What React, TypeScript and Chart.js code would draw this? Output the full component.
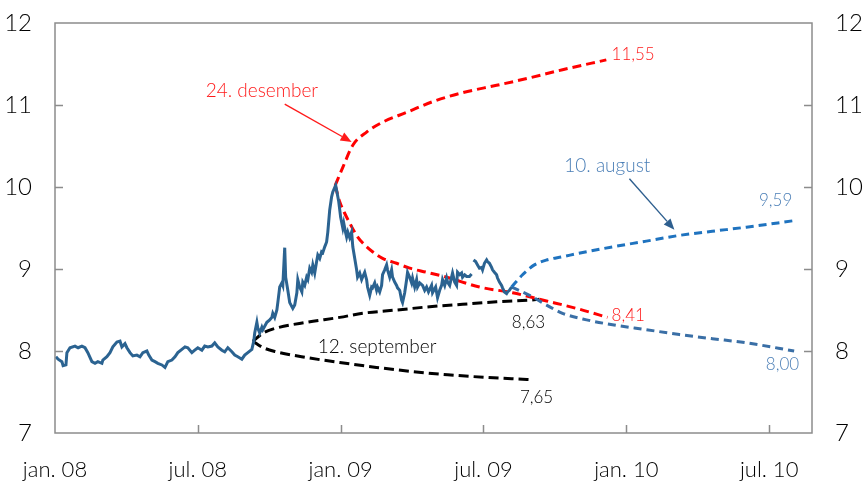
import { useEffect, useRef } from "react";
import { Chart, registerables } from "chart.js";

Chart.register(...registerables);

// x values are months since 1 January 2008
const xTickMonths = [0, 6, 12, 18, 24, 30];
const xTickLabels = ["jan. 08", "jul. 08", "jan. 09", "jul. 09", "jan. 10", "jul. 10"];
const yInnerTicks = [8, 9, 10, 11];

const actual: [number, number | null][] = [
  [0.04, 7.93], [0.13, 7.9], [0.29, 7.87], [0.34, 7.82], [0.46, 7.83], [0.5, 7.98], [0.63, 8.04], [0.84, 8.06],
  [0.97, 8.04], [1.13, 8.06], [1.26, 8.04], [1.38, 7.98], [1.55, 7.87], [1.68, 7.85], [1.8, 7.87], [1.97, 7.85],
  [2.01, 7.89], [2.18, 7.93], [2.31, 7.98], [2.43, 8.05], [2.6, 8.11], [2.73, 8.12], [2.81, 8.05], [2.94, 8.09],
  [3.02, 8.04], [3.15, 7.98], [3.27, 7.94], [3.44, 7.95], [3.57, 7.93], [3.69, 7.98], [3.86, 8.0], [3.94, 7.95],
  [4.07, 7.89], [4.2, 7.87], [4.32, 7.85], [4.49, 7.83], [4.62, 7.8], [4.74, 7.87], [4.91, 7.89], [5.04, 7.93],
  [5.16, 7.98], [5.33, 8.02], [5.46, 8.05], [5.58, 8.04], [5.75, 7.98], [5.87, 8.01], [6.0, 8.04], [6.17, 8.01],
  [6.29, 8.06], [6.42, 8.05], [6.59, 8.06], [6.71, 8.1], [6.84, 8.05], [7.01, 8.01], [7.13, 7.99], [7.26, 8.04],
  [7.43, 7.99], [7.55, 7.95], [7.68, 7.93], [7.85, 7.9], [7.97, 7.95], [8.1, 7.98], [8.27, 8.02], [8.35, 8.12],
  [8.39, 8.22], [8.48, 8.35], [8.52, 8.28], [8.6, 8.22], [8.69, 8.29], [8.73, 8.26], [8.9, 8.35], [9.02, 8.38],
  [9.11, 8.41], [9.15, 8.46], [9.23, 8.41], [9.32, 8.5], [9.36, 8.59], [9.44, 8.78], [9.53, 8.83], [9.57, 8.8],
  [9.65, 9.26], [9.69, 8.9], [9.78, 8.74], [9.86, 8.59], [9.99, 8.52], [10.07, 8.56], [10.16, 8.71], [10.2, 8.87],
  [10.28, 8.78], [10.37, 8.72], [10.41, 8.84], [10.49, 8.8], [10.57, 8.9], [10.62, 8.87], [10.7, 9.01], [10.78, 8.96],
  [10.83, 9.05], [10.91, 8.95], [10.99, 9.09], [11.04, 9.17], [11.12, 9.13], [11.2, 9.21], [11.25, 9.2], [11.33, 9.27],
  [11.41, 9.33], [11.46, 9.45], [11.54, 9.72], [11.62, 9.88], [11.67, 9.94], [11.79, 10.02], [11.83, 9.96], [11.92, 9.82],
  [12.0, 9.63], [12.09, 9.5], [12.13, 9.56], [12.21, 9.44], [12.25, 9.39], [12.3, 9.45], [12.38, 9.38], [12.46, 9.45],
  [12.51, 9.27], [12.59, 9.13], [12.67, 8.99], [12.71, 8.9], [12.8, 8.95], [12.88, 8.87], [12.92, 8.9], [13.01, 8.96],
  [13.09, 8.87], [13.13, 8.78], [13.22, 8.68], [13.3, 8.78], [13.34, 8.77], [13.43, 8.83], [13.51, 8.74], [13.55, 8.78],
  [13.64, 8.72], [13.72, 8.8], [13.76, 8.93], [13.85, 8.99], [13.93, 9.05], [13.97, 8.99], [14.06, 8.9], [14.14, 8.99],
  [14.18, 8.9], [14.27, 8.84], [14.35, 8.8], [14.39, 8.77], [14.48, 8.74], [14.56, 8.62], [14.6, 8.59], [14.69, 8.71],
  [14.77, 8.87], [14.81, 8.96], [14.9, 8.9], [14.98, 8.83], [15.02, 8.89], [15.11, 8.78], [15.19, 8.87], [15.23, 8.78],
  [15.32, 8.83], [15.44, 8.8], [15.53, 8.74], [15.61, 8.78], [15.69, 8.72], [15.82, 8.8], [15.86, 8.71], [15.99, 8.78],
  [16.07, 8.65], [16.16, 8.74], [16.24, 8.8], [16.28, 8.87], [16.37, 8.8], [16.45, 8.89], [16.49, 8.84], [16.58, 8.8],
  [16.66, 8.9], [16.7, 8.95], [16.79, 8.84], [16.87, 8.8], [16.91, 8.96], [17.0, 8.93], [17.08, 8.95], [17.12, 8.9],
  [17.21, 8.93], [17.29, 8.91], [17.41, 8.91], [17.5, 8.94], [17.54, null],
  [17.58, 9.11], [17.67, 9.09], [17.75, 9.05], [17.83, 9.01], [17.92, 9.02], [17.96, 8.99], [18.04, 9.07], [18.13, 9.11],
  [18.17, 9.09], [18.25, 9.07], [18.34, 9.02], [18.38, 8.99], [18.46, 8.96], [18.55, 8.93], [18.59, 8.89], [18.67, 8.84],
  [18.76, 8.8], [18.8, 8.77], [18.88, 8.72], [18.97, 8.7], [19.01, 8.72], [19.09, 8.74], [19.18, 8.78],
];

const dec24Up: [number, number][] = [
  [11.77, 10.02], [12.09, 10.24], [12.51, 10.51], [13.09, 10.67], [13.76, 10.79], [14.77, 10.91],
  [15.86, 11.04], [17.12, 11.15], [18.55, 11.24], [19.93, 11.33], [21.32, 11.43], [23.16, 11.55],
];
const dec24Down: [number, number][] = [
  [11.77, 10.02], [11.96, 9.82], [12.17, 9.68], [12.38, 9.56], [12.67, 9.41], [12.92, 9.32], [13.34, 9.21],
  [13.76, 9.13], [14.35, 9.07], [14.9, 9.01], [15.61, 8.96], [16.45, 8.9], [17.83, 8.78], [19.22, 8.71],
  [20.65, 8.61], [22.03, 8.51], [23.21, 8.41],
];
const sep12Up: [number, number][] = [
  [8.31, 8.12], [8.75, 8.22], [9.3, 8.28], [10.57, 8.35], [11.96, 8.41], [12.92, 8.46], [14.35, 8.5],
  [15.74, 8.54], [17.12, 8.57], [18.55, 8.6], [19.93, 8.62], [20.35, 8.63],
];
const sep12Down: [number, number][] = [
  [8.31, 8.12], [8.75, 8.04], [9.3, 7.99], [10.57, 7.92], [11.96, 7.86], [13.5, 7.8], [15.0, 7.75],
  [16.5, 7.71], [18.0, 7.68], [19.3, 7.66], [20.06, 7.65],
];
const aug10Up: [number, number][] = [
  [19.18, 8.78], [19.64, 8.93], [20.14, 9.05], [20.65, 9.11], [21.32, 9.15], [22.33, 9.21], [23.42, 9.27],
  [24.84, 9.34], [26.23, 9.41], [27.61, 9.46], [29.04, 9.51], [31.05, 9.59],
];
const aug10Down: [number, number][] = [
  [19.18, 8.78], [19.64, 8.72], [20.06, 8.66], [20.65, 8.56], [21.32, 8.46], [22.33, 8.38], [23.42, 8.32],
  [24.84, 8.26], [26.23, 8.2], [27.61, 8.15], [29.04, 8.1], [31.05, 8.0],
];

const RED = "#ff1a1a";
const BLUE_TEXT = "#4a7eb6";
const FONT = "Lato, 'Noto Sans', sans-serif";
const WEIGHT = "300";

const texts = [
  { text: "11,55", x: 23.38, y: 11.61, color: RED, align: "left", size: 17 },
  { text: "24. desember", x: 8.69, y: 11.17, color: RED, align: "center", size: 19 },
  { text: "10. august", x: 23.2, y: 10.26, color: BLUE_TEXT, align: "center", size: 19 },
  { text: "9,59", x: 30.97, y: 9.83, color: BLUE_TEXT, align: "right", size: 17 },
  { text: "8,00", x: 31.26, y: 7.83, color: BLUE_TEXT, align: "right", size: 17 },
  { text: "8,41", x: 23.38, y: 8.43, color: RED, align: "left", size: 17 },
  { text: "8,63", x: 19.89, y: 8.35, color: "#000", align: "center", size: 17 },
  { text: "7,65", x: 20.23, y: 7.43, color: "#000", align: "center", size: 17 },
  { text: "12. september", x: 13.53, y: 8.05, color: "#000", align: "center", size: 19 },
];

const arrows = [
  { from: [9.65, 11.01], to: [12.46, 10.55], color: RED },
  { from: [24.13, 10.1], to: [26.02, 9.48], color: "#2e5f8f" },
];

const pts = (a: [number, number | null][]) => a.map(([x, y]) => ({ x, y }));

const overlay = {
  id: "overlay",
  afterDatasetsDraw(chart: any) {
    const { ctx, chartArea: a, scales } = chart;
    const sx = scales.x;
    const sy = scales.y;
    ctx.save();
    ctx.strokeStyle = "#8c8c8c";
    ctx.lineWidth = 1.5;
    ctx.strokeRect(a.left, a.top, a.right - a.left, a.bottom - a.top);
    ctx.beginPath();
    for (const m of xTickMonths) {
      if (m === 0) continue;
      const px = Math.round(sx.getPixelForValue(m)) + 0.5;
      ctx.moveTo(px, a.bottom);
      ctx.lineTo(px, a.bottom - 8);
    }
    for (const v of yInnerTicks) {
      const py = Math.round(sy.getPixelForValue(v)) + 0.5;
      ctx.moveTo(a.left, py);
      ctx.lineTo(a.left + 8, py);
      ctx.moveTo(a.right, py);
      ctx.lineTo(a.right - 8, py);
    }
    ctx.stroke();

    for (const ar of arrows) {
      const x1 = sx.getPixelForValue(ar.from[0]);
      const y1 = sy.getPixelForValue(ar.from[1]);
      const x2 = sx.getPixelForValue(ar.to[0]);
      const y2 = sy.getPixelForValue(ar.to[1]);
      const ang = Math.atan2(y2 - y1, x2 - x1);
      const L = 11;
      const W = 4.5;
      ctx.strokeStyle = ar.color;
      ctx.fillStyle = ar.color;
      ctx.lineWidth = 1.4;
      ctx.beginPath();
      ctx.moveTo(x1, y1);
      ctx.lineTo(x2 - L * Math.cos(ang), y2 - L * Math.sin(ang));
      ctx.stroke();
      ctx.beginPath();
      ctx.moveTo(x2, y2);
      ctx.lineTo(x2 - L * Math.cos(ang) - W * Math.sin(ang), y2 - L * Math.sin(ang) + W * Math.cos(ang));
      ctx.lineTo(x2 - L * Math.cos(ang) + W * Math.sin(ang), y2 - L * Math.sin(ang) - W * Math.cos(ang));
      ctx.closePath();
      ctx.fill();
    }

    for (const t of texts) {
      ctx.fillStyle = t.color;
      ctx.font = `${WEIGHT} ${t.size}px ${FONT}`;
      ctx.textAlign = t.align;
      ctx.textBaseline = "middle";
      ctx.fillText(t.text, sx.getPixelForValue(t.x), sy.getPixelForValue(t.y));
    }
    ctx.restore();
  },
};

export default function App() {
  const ref = useRef<HTMLCanvasElement | null>(null);
  useEffect(() => {
    if (!ref.current) return;
    const dashed = (data: [number, number][], color: string, dash: number[]) => ({
      data: pts(data),
      borderColor: color,
      borderWidth: 3,
      borderDash: dash,
      pointRadius: 0,
      tension: 0.4,
      cubicInterpolationMode: "monotone" as const,
      fill: false,
    });
    const yAxis = (position: "left" | "right", width: number) => ({
      position,
      min: 7,
      max: 12,
      grid: { display: false, drawTicks: false },
      border: { display: false },
      ticks: { stepSize: 1, padding: 23, color: "#000", font: { family: FONT, size: 24, weight: WEIGHT } },
      afterFit: (s: any) => {
        s.width = width;
        s.paddingTop = 0;
        s.paddingBottom = 0;
      },
    });
    const chart = new Chart(ref.current, {
      type: "line",
      data: {
        datasets: [
          {
            data: pts(actual),
            borderColor: "#2b6391",
            borderWidth: 3,
            pointRadius: 0,
            tension: 0,
            spanGaps: false,
            fill: false,
          },
          dashed(aug10Up, "#1f73bf", [8, 5]),
          dashed(aug10Down, "#3a6fa6", [8, 5]),
          dashed(dec24Up, "#ff0000", [9, 5]),
          dashed(dec24Down, "#ff0000", [9, 5]),
          dashed(sep12Up, "#000000", [10, 5]),
          dashed(sep12Down, "#000000", [10, 5]),
        ] as any,
      },
      options: {
        responsive: true,
        maintainAspectRatio: false,
        animation: false,
        parsing: false as any,
        layout: { padding: { top: 23, left: 0, right: 0, bottom: 0 } },
        plugins: { legend: { display: false }, tooltip: { enabled: false } },
        scales: {
          x: {
            type: "linear",
            min: 0,
            max: 31.8,
            grid: { display: false, drawTicks: false },
            border: { display: false },
            afterBuildTicks: (s: any) => {
              s.ticks = xTickMonths.map((v) => ({ value: v }));
            },
            ticks: {
              padding: 24,
              color: "#000",
              autoSkip: false,
              maxRotation: 0,
              font: { family: FONT, size: 22, weight: WEIGHT },
              callback: (v: any) => {
                const i = xTickMonths.indexOf(Number(v));
                return i >= 0 ? xTickLabels[i] : "";
              },
            },
            afterFit: (s: any) => {
              s.height = 51;
              s.paddingLeft = 0;
              s.paddingRight = 0;
            },
          },
          y: yAxis("left", 55) as any,
          y2: yAxis("right", 51) as any,
        },
      },
      plugins: [overlay as any],
    });
    return () => chart.destroy();
  }, []);
  return (
    <div style={{ position: "fixed", left: 0, top: 0, width: 863, height: 484, background: "#fff" }}>
      <canvas ref={ref} />
    </div>
  );
}
